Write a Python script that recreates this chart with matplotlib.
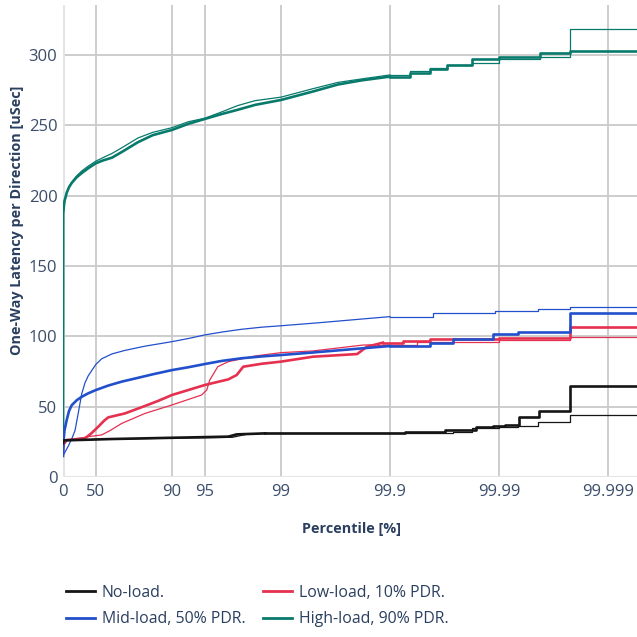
import matplotlib
matplotlib.use("Agg")
import matplotlib.pyplot as plt
from matplotlib.lines import Line2D
import numpy as np

plt.rcParams["font.family"] = ["Open Sans", "DejaVu Sans"]

# percentile [%] -> one-way latency [uSec], two directions per load
hi_d1_pct = [0, 0.5, 3, 7.5, 12, 16.8, 25, 32.6, 41.4, 50, 57, 64.5, 71.1, 79.5, 85, 90, 92.9, 95,
             96.5, 97.5, 98.27, 99, 99.49, 99.7, 99.82, 99.9, 99.935, 99.957, 99.970, 99.9823,
             99.99, 99.9958, 99.99777, 99.99999]
hi_d1_lat = [22, 188, 196, 202, 206, 209, 213, 216, 219.5, 223, 225, 227, 231, 238, 243, 246.7, 251,
             254.5, 258, 261, 264.5, 268, 274, 279, 282, 284.6, 287.5, 290, 292.9, 297,
             298.8, 301.2, 303, 303]
hi_d2_pct = hi_d1_pct
hi_d2_lat = [20, 186, 195, 202, 206.5, 209.5, 214, 217.5, 221, 224.5, 227, 230, 234, 241, 245, 248.3,
             252.5, 255, 259.5, 264, 267.5, 270, 276, 280.5, 283, 285.8, 288.5, 291, 293, 294.5,
             297, 298.8, 318.2, 318.2]

mid_d1_pct = [0, 1, 3, 7.5, 12, 16.8, 25, 32.6, 41.4, 50, 61.6, 71.1, 79.5, 85, 90, 92.9, 95, 96.5,
              97.7, 98.5, 99, 99.49, 99.7, 99.823, 99.9, 99.957, 99.9736, 99.9886, 99.9933,
              99.99777, 99.99999]
mid_d1_lat = [15, 25, 33, 40.5, 47, 51, 54.5, 57, 59.5, 61.8, 65, 67.8, 70.5, 73, 76, 78, 80.3, 82.5,
              84.4, 85.7, 86.7, 88.5, 90, 91.5, 93.1, 95.5, 97.9, 101.7, 103, 116.8, 116.8]
mid_d2_pct = [0, 3, 10.6, 16.8, 22.4, 27, 32.6, 37.2, 41.4, 50, 55.8, 64.5, 73, 82.3, 90, 93, 95,
              96.5, 97.7, 98.5, 99, 99.56, 99.8, 99.9, 99.9596, 99.9891, 99.9956, 99.99777, 99.99999]
mid_d2_lat = [15, 17, 22, 27, 33, 44, 59, 67, 72, 80, 84, 87.5, 90, 93, 96.2, 98.5, 101, 103, 105,
              106.5, 107.5, 109.7, 112, 114, 116.4, 118, 119.4, 121, 121]

low_d1_pct = [0, 1, 7.5, 37.2, 45, 52.6, 58, 61.6, 73, 82.3, 86.5, 90, 92.9, 95, 96.96, 97.45, 97.78,
              98.5, 99, 99.49, 99.80, 99.837, 99.884, 99.924, 99.957, 99.99, 99.99777, 99.99999]
low_d1_lat = [18, 23, 26.3, 27.5, 31, 35.8, 40, 42.4, 45.2, 50.5, 54, 58.3, 61.8, 65.4, 69.4, 72.5,
              78.4, 80.5, 82, 85.5, 87.4, 92.6, 95.5, 96.9, 98.1, 99, 106.9, 106.9]
low_d2_pct = [0, 1, 7.5, 30, 41.4, 55.8, 63, 71.1, 82.3, 90, 94.65, 95.2, 95.5, 96.2, 96.96, 98.27,
              99, 99.49, 99.823, 99.868, 99.9435, 99.99, 99.99777, 99.99999]
low_d2_lat = [18, 23, 26.3, 27.5, 28.7, 29.9, 33, 38.1, 45.2, 51.2, 58.3, 61.8, 69, 78.4, 82, 86,
              88.4, 89.6, 93.8, 94, 95.8, 97.4, 99.7, 99.7]

no_d1_pct = [0, 1, 64.5, 96.96, 97.45, 98.6, 99.927, 99.9687, 99.9839, 99.9887, 99.9912, 99.9934,
             99.9957, 99.99777, 99.99999]
no_d1_lat = [24, 26, 27, 28.7, 30.3, 31, 32.2, 33.4, 35.3, 36.3, 37, 42.9, 47.2, 64.9, 64.9]
no_d2_pct = [0, 1, 64.5, 97.2, 98.0, 98.6, 99.927, 99.9736, 99.9823, 99.99, 99.9933, 99.9956,
             99.99777, 99.99999]
no_d2_lat = [24, 26, 27, 28.2, 30.6, 31, 31.5, 32.2, 34.6, 35.8, 36.3, 38.9, 44.1, 44.1]

tick_pct = [0, 50, 90, 95, 99, 99.9, 99.99, 99.999]
tick_labels = ["0", "50", "90", "95", "99", "99.9", "99.99", "99.999"]

series = [
    ("No-load.", "#151515", (no_d1_pct, no_d1_lat), (no_d2_pct, no_d2_lat)),
    ("Mid-load, 50% PDR.", "#2250cc", (mid_d1_pct, mid_d1_lat), (mid_d2_pct, mid_d2_lat)),
    ("Low-load, 10% PDR.", "#e5304f", (low_d1_pct, low_d1_lat), (low_d2_pct, low_d2_lat)),
    ("High-load, 90% PDR.", "#087a6c", (hi_d1_pct, hi_d1_lat), (hi_d2_pct, hi_d2_lat)),
]

STEP_FROM = 99.9  # above this percentile the histogram buckets show as steps


def to_x(pct):
    # percentile axis: log10 of 1 / (1 - p)
    pct = np.asarray(pct, dtype=float)
    return np.log10(100.0 / (100.0 - pct))


def draw_curve(ax, pct, lat, col, lw):
    x = to_x(pct)
    lat = np.asarray(lat, dtype=float)
    i = int(np.searchsorted(pct, STEP_FROM, side="right"))
    ax.plot(x[:i], lat[:i], color=col, lw=lw, zorder=3, solid_joinstyle="round")
    ax.plot(x[i - 1:], lat[i - 1:], drawstyle="steps-post", color=col, lw=lw, zorder=3)


tick_col = "#3b4d6b"
title_col = "#2a3f5f"

fig = plt.figure(figsize=(6.37, 6.37), dpi=100)
ax = fig.add_axes([63 / 637, 160 / 637, 574 / 637, 472 / 637])

for spine in ax.spines.values():
    spine.set_visible(False)
ax.set_axisbelow(True)
ax.grid(True, color="#c9c9c9", lw=1.3)
ax.axhline(0, color="#e4e4e4", lw=2.2, zorder=1)
ax.axvline(0, color="#e4e4e4", lw=2.2, zorder=1)

# high load at the back
for name, col, d1, d2 in series[::-1]:
    draw_curve(ax, d2[0], d2[1], col, 0.9)
    draw_curve(ax, d1[0], d1[1], col, 1.9)

ax.set_xlim(0, 574 / 109)
ax.set_ylim(0, 335.5)
ax.set_xticks(to_x(tick_pct))
ax.set_xticklabels(tick_labels)
ax.set_yticks([0, 50, 100, 150, 200, 250, 300])
ax.tick_params(axis="both", length=0, labelsize=12, labelcolor=tick_col)
ax.tick_params(axis="x", pad=5)
ax.tick_params(axis="y", pad=4)

fig.text(17 / 637, (637 - 220) / 637, "One-Way Latency per Direction [uSec]", rotation=90,
         ha="center", va="center", fontsize=10.4, fontweight="bold", color=title_col)
fig.text(352 / 637, (637 - 529) / 637, "Percentile [%]", ha="center", va="center",
         fontsize=10.4, fontweight="bold", color=title_col)

handles = [Line2D([0], [0], color=col, lw=2) for _, col, _, _ in series]
labels = [name for name, _, _, _ in series]
leg = fig.legend(handles, labels, ncol=2, loc="center left",
                 bbox_to_anchor=(66 / 637, (637 - 606) / 637), frameon=False,
                 fontsize=11.4, handlelength=1.85, handletextpad=0.42, columnspacing=1.1,
                 borderpad=0, borderaxespad=0, labelspacing=0.65)
for t in leg.get_texts():
    t.set_color(title_col)

fig.savefig("out.png", dpi=100)
